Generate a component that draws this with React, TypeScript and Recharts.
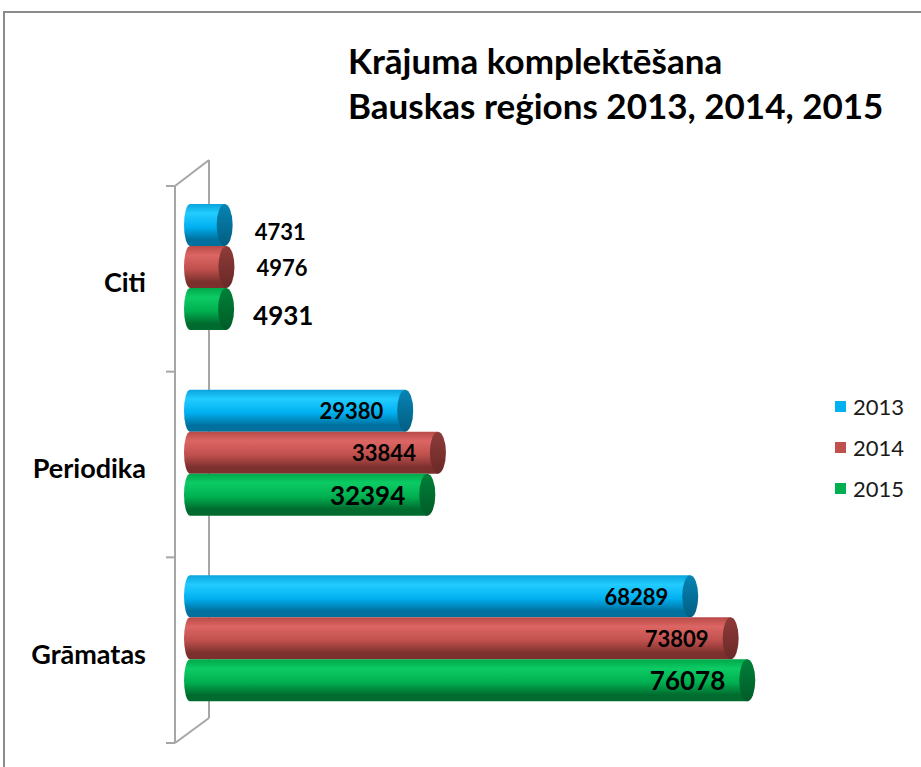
import { BarChart, Bar, XAxis, YAxis, LabelList, Legend, Customized } from 'recharts';

const categories = ['Citi', 'Periodika', 'Grāmatas'];
const years = ['2013', '2014', '2015'];
const values2013 = [4731, 29380, 68289];
const values2014 = [4976, 33844, 73809];
const values2015 = [4931, 32394, 76078];
const titleLines = ['Krājuma komplektēšana', 'Bauskas reģions 2013, 2014, 2015'];

const data = categories.map((name, i) => ({
  name,
  '2013': values2013[i],
  '2014': values2014[i],
  '2015': values2015[i]
}));

const FONT = 'Lato, "Open Sans", sans-serif';

// base colour + shades for the cylinder look
const SHADES: Record<string, { base: string; light: string; top: string; dark: string; cap: string; capDark: string }> = {
  '2013': { base: '#00B0F0', light: '#22CCFF', top: '#0AA4DC', dark: '#00709E', cap: '#0684B4', capDark: '#035E82' },
  '2014': { base: '#C0504D', light: '#DC6664', top: '#B84A47', dark: '#7C302E', cap: '#8E3B39', capDark: '#6A2927' },
  '2015': { base: '#00B050', light: '#0CCB64', top: '#00A84A', dark: '#006B2E', cap: '#008038', capDark: '#005C27' }
};

const W = 921;
const H = 767;
const M = { top: 174, right: 145, bottom: 36, left: 0 };
const Y_AXIS_W = 190;

const Cylinder = (props: any) => {
  const { x, y, width, height, year } = props;
  if (width == null || height == null) return null;
  const rl = 6;
  const rc = 8;
  const h2 = height / 2;
  const body = `M${x},${y} L${x + width},${y} L${x + width},${y + height} L${x},${y + height} A${rl},${h2} 0 0 1 ${x},${y} Z`;
  return (
    <g>
      <path d={body} fill={`url(#body-${year})`} />
      <ellipse cx={x + width} cy={y + h2} rx={rc} ry={h2} fill={`url(#cap-${year})`} />
    </g>
  );
};

const makeLabel = (year: string) => (props: any) => {
  const { x, y, width, height, value } = props;
  const big = year === '2015';
  const fs = big ? 26 : 22;
  const inside = value >= 10000;
  const tx = inside ? x + width - 22 : x + width + (big ? 27 : 30);
  const dy = inside ? 0 : big ? 6 : year === '2013' ? 6 : 0;
  return (
    <text
      x={tx}
      y={y + height / 2 + dy}
      textAnchor={inside ? 'end' : 'start'}
      dominantBaseline="central"
      fontFamily={FONT}
      fontWeight={700}
      fontSize={fs}
      fill="#000"
    >
      {value}
    </text>
  );
};

const CategoryTick = (props: any) => {
  const { y, payload } = props;
  return (
    <text x={146} y={y + 15} textAnchor="end" dominantBaseline="central" fontFamily={FONT} fontWeight={700} fontSize={27} fill="#000">
      {payload.value}
    </text>
  );
};

// 3D-ish walls, outer frame and title
const Frame = () => {
  const top = M.top;
  const bottom = H - M.bottom;
  const band = (bottom - top) / categories.length;
  const fx = 175;
  const bx = 209;
  const ticks = categories.map((_, i) => top + 12 + band * i).concat([bottom + 12]);
  const stroke = '#A6A6A6';
  return (
    <g>
      <rect x={4} y={12} width={1000} height={1000} fill="none" stroke="#8C8C8C" strokeWidth={2} />
      <line x1={fx} y1={top + 12} x2={fx} y2={bottom + 12} stroke={stroke} strokeWidth={2} />
      <line x1={bx} y1={top - 14} x2={bx} y2={bottom - 13} stroke={stroke} strokeWidth={2} />
      <line x1={fx} y1={top + 12} x2={bx} y2={top - 14} stroke={stroke} strokeWidth={2} />
      <line x1={fx} y1={bottom + 12} x2={bx} y2={bottom - 13} stroke={stroke} strokeWidth={2} />
      {ticks.map((t, i) => (
        <line key={i} x1={166} y1={t} x2={fx} y2={t} stroke={stroke} strokeWidth={2} />
      ))}
      {titleLines.map((t, i) => (
        <text key={t} x={348} y={60 + i * 45} dominantBaseline="central" fontFamily={FONT} fontWeight={700} fontSize={35} fill="#000">
          {t}
        </text>
      ))}
    </g>
  );
};

const LegendContent = (props: any) => {
  const { payload } = props;
  return (
    <div style={{ fontFamily: FONT, fontSize: 22, color: '#1a1a1a' }}>
      {(payload || []).map((p: any) => (
        <div key={p.value} style={{ display: 'flex', alignItems: 'center', height: 41 }}>
          <span style={{ display: 'inline-block', width: 11, height: 11, background: p.color, marginRight: 7 }} />
          <span>{p.value}</span>
        </div>
      ))}
    </div>
  );
};

export default function App() {
  return (
    <div style={{ background: '#fff', width: W, height: H }}>
      <style>{'body{margin:0}'}</style>
      <BarChart
        width={W}
        height={H}
        data={data}
        layout="vertical"
        margin={M}
        barSize={42}
        barGap={0}
      >
        <defs>
          {years.map((yr) => {
            const s = SHADES[yr];
            return (
              <g key={yr}>
                <linearGradient id={`body-${yr}`} x1="0" y1="0" x2="0" y2="1">
                  <stop offset="0%" stopColor={s.top} />
                  <stop offset="22%" stopColor={s.light} />
                  <stop offset="55%" stopColor={s.base} />
                  <stop offset="85%" stopColor={s.dark} />
                  <stop offset="100%" stopColor={s.dark} />
                </linearGradient>
                <linearGradient id={`cap-${yr}`} x1="0" y1="0" x2="0" y2="1">
                  <stop offset="0%" stopColor={s.cap} />
                  <stop offset="100%" stopColor={s.capDark} />
                </linearGradient>
              </g>
            );
          })}
        </defs>
        <Customized component={<Frame />} />
        <XAxis type="number" domain={[0, 80000]} hide />
        <YAxis
          type="category"
          dataKey="name"
          width={Y_AXIS_W}
          axisLine={false}
          tickLine={false}
          tick={<CategoryTick />}
        />
        {years.map((yr) => (
          <Bar
            key={yr}
            dataKey={yr}
            name={yr}
            fill={SHADES[yr].base}
            isAnimationActive={false}
            shape={(p: any) => <Cylinder {...p} year={yr} />}
          >
            <LabelList dataKey={yr} content={makeLabel(yr)} />
          </Bar>
        ))}
        <Legend
          layout="vertical"
          align="center"
          verticalAlign="middle"
          content={<LegendContent />}
          wrapperStyle={{ left: 835, top: 386, width: 90 }}
        />
      </BarChart>
    </div>
  );
}
